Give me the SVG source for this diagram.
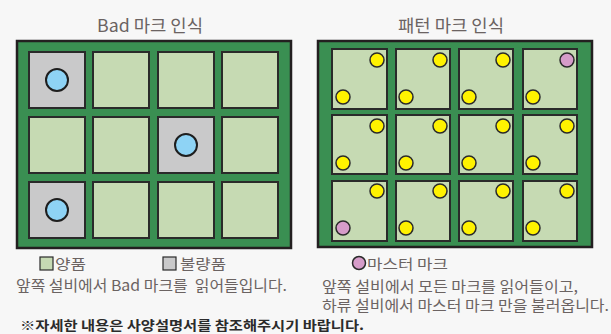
<svg xmlns="http://www.w3.org/2000/svg" width="611" height="334" viewBox="0 0 611 334">
<defs>
<style>
.bg{fill:#f7f7f7}
.board{fill:#3a8f52;stroke:#231f20;stroke-width:2.5}
.g{fill:#c6dab3;stroke:#2a2a2a;stroke-width:2}
.x{fill:#c9c9ca;stroke:#2a2a2a;stroke-width:2}
.b{fill:#8ed3f5;stroke:#1e1e1e;stroke-width:2}
.y{fill:#fff200;stroke:#2a2a2a;stroke-width:1.5}
.p{fill:#d69cc9;stroke:#2a2a2a;stroke-width:1.5}
.t{font-family:"Noto Sans CJK KR","Noto Sans",sans-serif;fill:#6b6362}
.n{font-family:"Noto Sans CJK KR","Noto Sans",sans-serif;fill:#2b2b2b;font-weight:bold}
</style>
</defs>
<rect class="bg" x="0" y="0" width="611" height="334"/>
<text class="t" x="97" y="32" font-size="17" textLength="106" lengthAdjust="spacingAndGlyphs">Bad 마크 인식</text>
<text class="t" x="398" y="32" font-size="17" textLength="106" lengthAdjust="spacingAndGlyphs">패턴 마크 인식</text>
<g id="boardLeft">
<rect class="board" x="17" y="41" width="274" height="207"/>
<rect class="x" x="29" y="52" width="56" height="56"/>
<rect class="g" x="93" y="52" width="56" height="56"/>
<rect class="g" x="158" y="52" width="56" height="56"/>
<rect class="g" x="222" y="52" width="56" height="56"/>
<rect class="g" x="29" y="117" width="56" height="56"/>
<rect class="g" x="93" y="117" width="56" height="56"/>
<rect class="x" x="158" y="117" width="56" height="56"/>
<rect class="g" x="222" y="117" width="56" height="56"/>
<rect class="x" x="29" y="182" width="56" height="56"/>
<rect class="g" x="93" y="182" width="56" height="56"/>
<rect class="g" x="158" y="182" width="56" height="56"/>
<rect class="g" x="222" y="182" width="56" height="56"/>
<circle class="b" cx="57" cy="80" r="11"/>
<circle class="b" cx="186" cy="145" r="11"/>
<circle class="b" cx="57" cy="210" r="11"/>
</g>
<g id="boardRight">
<rect class="board" x="318" y="41" width="274" height="206"/>
<rect class="g" x="332" y="49" width="55" height="60"/>
<rect class="g" x="396" y="49" width="54" height="60"/>
<rect class="g" x="459" y="49" width="54" height="60"/>
<rect class="g" x="523" y="49" width="54" height="60"/>
<rect class="g" x="332" y="115" width="55" height="59"/>
<rect class="g" x="396" y="115" width="54" height="59"/>
<rect class="g" x="459" y="115" width="54" height="59"/>
<rect class="g" x="523" y="115" width="54" height="59"/>
<rect class="g" x="332" y="181" width="55" height="60"/>
<rect class="g" x="396" y="181" width="54" height="60"/>
<rect class="g" x="459" y="181" width="54" height="60"/>
<rect class="g" x="523" y="181" width="54" height="60"/>
<circle class="y" cx="377" cy="60" r="7"/><circle class="y" cx="343" cy="97" r="7"/>
<circle class="y" cx="440" cy="60" r="7"/><circle class="y" cx="406" cy="97" r="7"/>
<circle class="y" cx="503" cy="60" r="7"/><circle class="y" cx="469" cy="97" r="7"/>
<circle class="p" cx="567" cy="60" r="7"/><circle class="y" cx="533" cy="97" r="7"/>
<circle class="y" cx="377" cy="126" r="7"/><circle class="y" cx="343" cy="163" r="7"/>
<circle class="y" cx="440" cy="126" r="7"/><circle class="y" cx="406" cy="163" r="7"/>
<circle class="y" cx="503" cy="126" r="7"/><circle class="y" cx="469" cy="163" r="7"/>
<circle class="y" cx="567" cy="126" r="7"/><circle class="y" cx="533" cy="163" r="7"/>
<circle class="y" cx="377" cy="191" r="7"/><circle class="p" cx="343" cy="228" r="7"/>
<circle class="y" cx="440" cy="191" r="7"/><circle class="y" cx="406" cy="228" r="7"/>
<circle class="y" cx="503" cy="191" r="7"/><circle class="y" cx="469" cy="228" r="7"/>
<circle class="y" cx="567" cy="191" r="7"/><circle class="y" cx="533" cy="228" r="7"/>
</g>
<g id="legendLeft">
<rect x="40" y="257" width="13" height="13" fill="#c6dab3" stroke="#2a2a2a" stroke-width="1.2"/>
<text class="t" x="55" y="269" font-size="14" textLength="31" lengthAdjust="spacingAndGlyphs">양품</text>
<rect x="163" y="257" width="13" height="13" fill="#c9c9ca" stroke="#2a2a2a" stroke-width="1.2"/>
<text class="t" x="180" y="269" font-size="14" textLength="46" lengthAdjust="spacingAndGlyphs">불량품</text>
<text class="t" x="16" y="291" font-size="15" textLength="271" lengthAdjust="spacingAndGlyphs" xml:space="preserve">앞쪽 설비에서 Bad 마크를  읽어들입니다.</text>
</g>
<g id="legendRight">
<circle cx="359" cy="263" r="6.5" fill="#d69cc9" stroke="#2a2a2a" stroke-width="1.5"/>
<text class="t" x="367" y="269" font-size="14" textLength="81" lengthAdjust="spacingAndGlyphs">마스터 마크</text>
<text class="t" x="322" y="292" font-size="15" textLength="256" lengthAdjust="spacingAndGlyphs">앞쪽 설비에서 모든 마크를 읽어들이고,</text>
<text class="t" x="322" y="311" font-size="15" textLength="287" lengthAdjust="spacingAndGlyphs">하류 설비에서 마스터 마크 만을 불러옵니다.</text>
</g>
<text class="n" x="20" y="330" font-size="13" textLength="344" lengthAdjust="spacingAndGlyphs">※자세한 내용은 사양설명서를 참조해주시기 바랍니다.</text>
</svg>
